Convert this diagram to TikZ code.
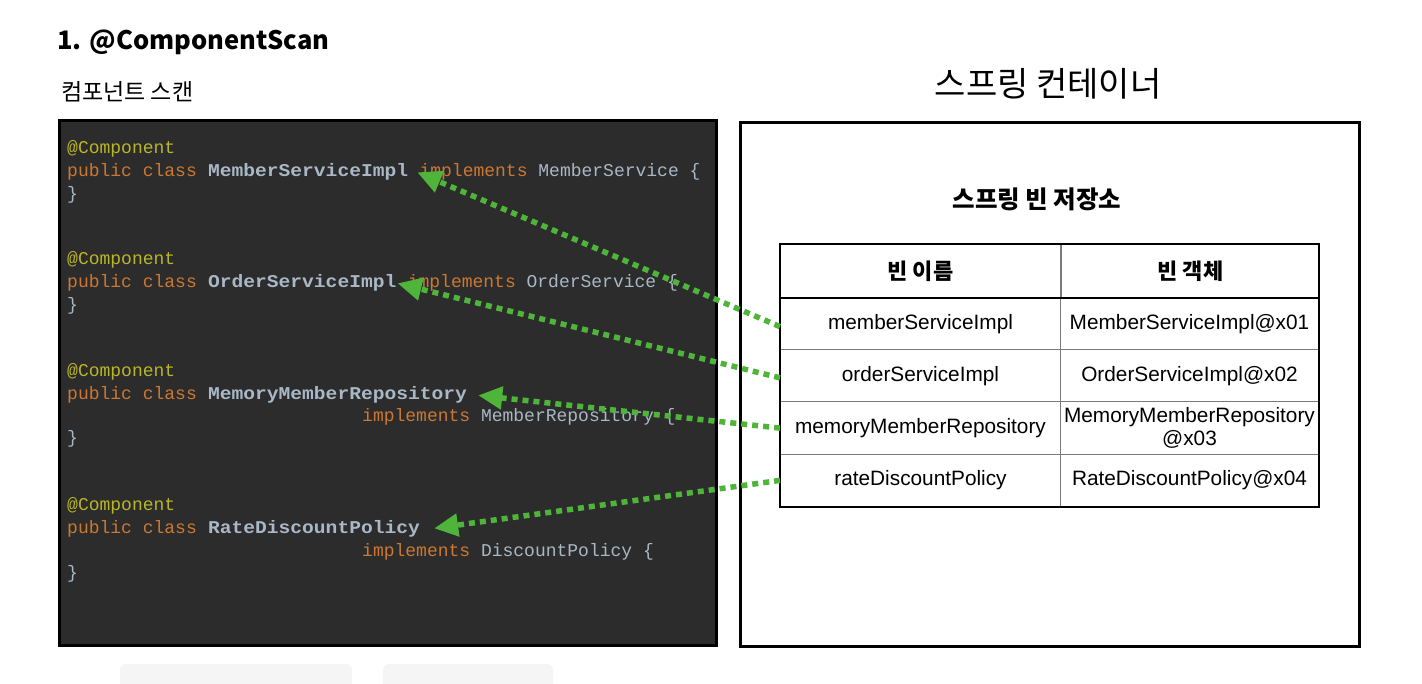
\documentclass[tikz,border=0pt]{standalone}
\usepackage{fontspec}
\usepackage{graphicx}
\setmainfont{Liberation Sans}
\setmonofont{Liberation Mono}
\newfontfamily\krfont{Noto Sans CJK KR}
\usepackage{tikz}
\usetikzlibrary{arrows.meta}
\usetikzlibrary{positioning}

\definecolor{codebg}{HTML}{2B2C2B}
\definecolor{annotcol}{HTML}{BBB529}
\definecolor{kwcol}{HTML}{CC7832}
\definecolor{plaincol}{HTML}{A9B7C6}
\definecolor{beangreen}{HTML}{4FB43A}
\definecolor{cellline}{HTML}{7A7A7A}

\newcommand{\codesize}{\fontsize{18}{22}\selectfont}
\newcommand{\kw}[1]{\textcolor{kwcol}{#1}}
\newcommand{\clsname}[1]{\scalebox{1.09}[1]{\bfseries #1}}

\tikzset{
    codeline/.style={anchor=base west, inner sep=0pt, font=\ttfamily\codesize, text=plaincol},
    annotline/.style={codeline, text=annotcol},
    cell/.style={draw=cellline, line width=1pt, inner sep=2pt, align=center,
        font=\fontsize{20.8}{23}\selectfont},
    headcell/.style={cell, font=\krfont\bfseries\fontsize{22}{26}\selectfont},
    beanarrow/.style={beangreen, line width=5.5pt, dash pattern=on 6pt off 5pt,
        -{Triangle[length=24pt,width=22pt]}},
}

\begin{document}
\begin{tikzpicture}[x=1pt,y=-1pt]
    \useasboundingbox (0,0) rectangle (1422,684);

    % titles
    \node[anchor=base west, inner sep=0pt, font=\krfont\bfseries\fontsize{25.5}{28}\selectfont] (title) at (57,50) {1. @ComponentScan};
    \node[anchor=west, inner sep=0pt, font=\krfont\fontsize{23}{26}\selectfont] (scanlabel) at (61,92) {컴포넌트 스캔};
    \node[inner sep=0pt, font=\krfont\fontsize{34}{38}\selectfont] (containerlabel) at (1048,84) {스프링 컨테이너};

    % panels
    \node[draw=black, line width=3pt, fill=codebg, anchor=north west, minimum width=657pt, minimum height=525pt] (codepanel) at (58,119) {};
    \node[draw=black, line width=3pt, fill=white, anchor=north west, minimum width=619pt, minimum height=524pt] (container) at (739,121) {};
    \fill[black!4, rounded corners=6pt] (120,664) rectangle (352,690);
    \fill[black!4, rounded corners=6pt] (383,664) rectangle (553,690);

    % code: MemberServiceImpl
    \node[annotline] (an1) at (67,154) {@Component};
    \node[codeline, text=kwcol] (pc1) at (67,177) {public class};
    \node[codeline, right=10.8pt of pc1.base east, anchor=base west] (msi) {\clsname{MemberServiceImpl}};
    \node[codeline, right=11pt of msi.base east, anchor=base west] (im1) {\kw{implements} MemberService \{};
    \node[codeline] (cb1) at (67,200) {\}};

    % code: OrderServiceImpl
    \node[annotline] (an2) at (67,265) {@Component};
    \node[codeline, text=kwcol] (pc2) at (67,288) {public class};
    \node[codeline, right=10.8pt of pc2.base east, anchor=base west] (osi) {\clsname{OrderServiceImpl}};
    \node[codeline, right=11pt of osi.base east, anchor=base west] (im2) {\kw{implements} OrderService \{};
    \node[codeline] (cb2) at (67,311) {\}};

    % code: MemoryMemberRepository
    \node[annotline] (an3) at (67,377) {@Component};
    \node[codeline, text=kwcol] (pc3) at (67,400) {public class};
    \node[codeline, right=10.8pt of pc3.base east, anchor=base west] (mmr) {\clsname{MemoryMemberRepository}};
    \node[codeline] (im3) at (362,422) {\kw{implements} MemberRepository \{};
    \node[codeline] (cb3) at (67,444) {\}};

    % code: RateDiscountPolicy
    \node[annotline] (an4) at (67,510) {@Component};
    \node[codeline, text=kwcol] (pc4) at (67,533) {public class};
    \node[codeline, right=10.8pt of pc4.base east, anchor=base west] (rdp) {\clsname{RateDiscountPolicy}};
    \node[codeline] (im4) at (362,556) {\kw{implements} DiscountPolicy \{};
    \node[codeline] (cb4) at (67,578) {\}};

    % bean store
    \node[inner sep=0pt, font=\krfont\bfseries\fontsize{24.5}{28}\selectfont] (storelabel) at (1037,199) {스프링 빈 저장소};

    \node[headcell, anchor=north west, minimum width=280pt, minimum height=53pt] (h1) at (780,244) {빈 이름};
    \node[headcell, right=0pt of h1, minimum width=258pt, minimum height=53pt] (h2) {빈 객체};
    \foreach \nm/\obj [count=\i] in {memberServiceImpl/MemberServiceImpl@x01,
            orderServiceImpl/OrderServiceImpl@x02,
            memoryMemberRepository/{MemoryMemberRepository\\@x03},
            rateDiscountPolicy/RateDiscountPolicy@x04}{
        \node[cell, anchor=north west, minimum width=280pt, minimum height=52.25pt] (n\i) at (780,{297+52.25*(\i-1)}) {\nm};
        \node[cell, anchor=north west, minimum width=258pt, minimum height=52.25pt] (o\i) at (1060,{297+52.25*(\i-1)}) {\obj};
    }
    \draw[line width=2pt] (h1.south west) -- (h2.south east);
    \draw[line width=2pt] (h1.north west) rectangle (o4.south east);

    % arrows
    \draw[beanarrow] ([yshift=-3pt]n1.west) -- ([xshift=9pt]msi.east);
    \draw[beanarrow] ([yshift=-2pt]n2.west) -- ([xshift=1pt]osi.east);
    \draw[beanarrow] (n3.west) -- ([xshift=11pt]mmr.east);
    \draw[beanarrow] (n4.west) -- ([xshift=14pt]rdp.east);
\end{tikzpicture}
\end{document}
